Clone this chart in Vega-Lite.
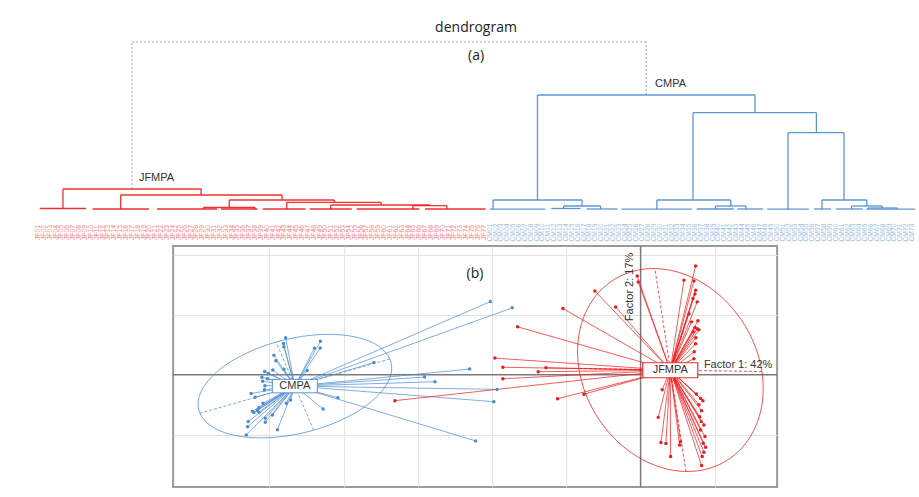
{
"$schema": "https://vega.github.io/schema/vega-lite/v6.json",
"background": "white",
"padding": {"left": 30, "top": 15, "right": 0, "bottom": 0},
"config": {"font": "Liberation Sans", "view": {"stroke": null}},
"center": true,
"spacing": 1,
"datasets": {
"segs": [
{"x":4.26,"x2":27.8,"y":2.1,"y2":2.1,"g":"JFMPA"},
{"x":4.26,"x2":4.26,"y":0.15,"y2":2.1,"g":"JFMPA"},
{"x":27.8,"x2":27.8,"y":1.5,"y2":2.1,"g":"JFMPA"},
{"x":14.1,"x2":41.6,"y":1.5,"y2":1.5,"g":"JFMPA"},
{"x":14.1,"x2":14.1,"y":0.1,"y2":1.5,"g":"JFMPA"},
{"x":41.6,"x2":41.6,"y":1.0,"y2":1.5,"g":"JFMPA"},
{"x":32.6,"x2":50.5,"y":1.0,"y2":1.0,"g":"JFMPA"},
{"x":32.6,"x2":32.6,"y":0.25,"y2":1.0,"g":"JFMPA"},
{"x":50.5,"x2":50.5,"y":0.77,"y2":1.0,"g":"JFMPA"},
{"x":42.4,"x2":58.5,"y":0.77,"y2":0.77,"g":"JFMPA"},
{"x":42.4,"x2":42.4,"y":0.1,"y2":0.77,"g":"JFMPA"},
{"x":58.5,"x2":58.5,"y":0.5,"y2":0.77,"g":"JFMPA"},
{"x":49.9,"x2":66.8,"y":0.5,"y2":0.5,"g":"JFMPA"},
{"x":49.9,"x2":49.9,"y":0.1,"y2":0.5,"g":"JFMPA"},
{"x":66.8,"x2":66.8,"y":0.43,"y2":0.5,"g":"JFMPA"},
{"x":63.9,"x2":69.7,"y":0.43,"y2":0.43,"g":"JFMPA"},
{"x":63.9,"x2":63.9,"y":0.1,"y2":0.43,"g":"JFMPA"},
{"x":69.7,"x2":69.7,"y":0.1,"y2":0.43,"g":"JFMPA"},
{"x":0.3,"x2":8.2,"y":0.15,"y2":0.15,"g":"JFMPA"},
{"x":9.3,"x2":18.9,"y":0.1,"y2":0.1,"g":"JFMPA"},
{"x":20.3,"x2":30.5,"y":0.1,"y2":0.1,"g":"JFMPA"},
{"x":31.2,"x2":37.4,"y":0.1,"y2":0.1,"g":"JFMPA"},
{"x":28.2,"x2":37.0,"y":0.25,"y2":0.25,"g":"JFMPA"},
{"x":28.2,"x2":28.2,"y":0.1,"y2":0.25,"g":"JFMPA"},
{"x":37.0,"x2":37.0,"y":0.1,"y2":0.25,"g":"JFMPA"},
{"x":38.3,"x2":45.6,"y":0.1,"y2":0.1,"g":"JFMPA"},
{"x":46.3,"x2":53.5,"y":0.1,"y2":0.1,"g":"JFMPA"},
{"x":54.3,"x2":65.0,"y":0.1,"y2":0.1,"g":"JFMPA"},
{"x":66.0,"x2":76.3,"y":0.1,"y2":0.1,"g":"JFMPA"},
{"x":85.15,"x2":122.23,"y":11.5,"y2":11.5,"g":"CMPA"},
{"x":85.15,"x2":85.15,"y":1.0,"y2":11.5,"g":"CMPA"},
{"x":122.23,"x2":122.23,"y":9.73,"y2":11.5,"g":"CMPA"},
{"x":77.57,"x2":92.74,"y":1.0,"y2":1.0,"g":"CMPA"},
{"x":77.57,"x2":77.57,"y":0.08,"y2":1.0,"g":"CMPA"},
{"x":92.74,"x2":92.74,"y":0.4,"y2":1.0,"g":"CMPA"},
{"x":89.6,"x2":95.9,"y":0.4,"y2":0.4,"g":"CMPA"},
{"x":89.6,"x2":89.6,"y":0.15,"y2":0.4,"g":"CMPA"},
{"x":95.9,"x2":95.9,"y":0.1,"y2":0.4,"g":"CMPA"},
{"x":111.66,"x2":132.7,"y":9.73,"y2":9.73,"g":"CMPA"},
{"x":111.66,"x2":111.66,"y":1.0,"y2":9.73,"g":"CMPA"},
{"x":132.7,"x2":132.7,"y":7.73,"y2":9.73,"g":"CMPA"},
{"x":105.5,"x2":118.1,"y":1.0,"y2":1.0,"g":"CMPA"},
{"x":105.5,"x2":105.5,"y":0.08,"y2":1.0,"g":"CMPA"},
{"x":118.1,"x2":118.1,"y":0.4,"y2":1.0,"g":"CMPA"},
{"x":115.5,"x2":120.7,"y":0.4,"y2":0.4,"g":"CMPA"},
{"x":115.5,"x2":115.5,"y":0.1,"y2":0.4,"g":"CMPA"},
{"x":120.7,"x2":120.7,"y":0.1,"y2":0.4,"g":"CMPA"},
{"x":127.85,"x2":137.4,"y":7.73,"y2":7.73,"g":"CMPA"},
{"x":127.85,"x2":127.85,"y":0.08,"y2":7.73,"g":"CMPA"},
{"x":137.4,"x2":137.4,"y":1.0,"y2":7.73,"g":"CMPA"},
{"x":133.65,"x2":141.3,"y":1.0,"y2":1.0,"g":"CMPA"},
{"x":133.65,"x2":133.65,"y":0.1,"y2":1.0,"g":"CMPA"},
{"x":141.3,"x2":141.3,"y":0.4,"y2":1.0,"g":"CMPA"},
{"x":138.7,"x2":143.9,"y":0.4,"y2":0.4,"g":"CMPA"},
{"x":138.7,"x2":138.7,"y":0.1,"y2":0.4,"g":"CMPA"},
{"x":143.9,"x2":143.9,"y":0.2,"y2":0.4,"g":"CMPA"},
{"x":141.5,"x2":146.5,"y":0.2,"y2":0.2,"g":"CMPA"},
{"x":141.5,"x2":141.5,"y":0.08,"y2":0.2,"g":"CMPA"},
{"x":146.5,"x2":146.5,"y":0.08,"y2":0.2,"g":"CMPA"},
{"x":77.0,"x2":86.5,"y":0.08,"y2":0.08,"g":"CMPA"},
{"x":87.5,"x2":92.5,"y":0.15,"y2":0.15,"g":"CMPA"},
{"x":93.5,"x2":98.8,"y":0.1,"y2":0.1,"g":"CMPA"},
{"x":99.5,"x2":111.5,"y":0.08,"y2":0.08,"g":"CMPA"},
{"x":112.3,"x2":118.6,"y":0.1,"y2":0.1,"g":"CMPA"},
{"x":119.2,"x2":123.6,"y":0.1,"y2":0.1,"g":"CMPA"},
{"x":124.3,"x2":131.4,"y":0.08,"y2":0.08,"g":"CMPA"},
{"x":132.3,"x2":135.2,"y":0.1,"y2":0.1,"g":"CMPA"},
{"x":136.0,"x2":140.6,"y":0.1,"y2":0.1,"g":"CMPA"},
{"x":141.2,"x2":149.5,"y":0.08,"y2":0.08,"g":"CMPA"}
],
"topsegs": [
{"x":16.03,"x2":103.69,"y":16.8,"y2":16.8},
{"x":16.03,"x2":16.03,"y":2.1,"y2":16.8},
{"x":103.69,"x2":103.69,"y":11.5,"y2":16.8}
],
"titles": [
{"t":"dendrogram","x":74.67,"y":18.2},
{"t":"(a)","x":74.67,"y":15.4}
],
"clabels": [
{"t":"CMPA","x":105.2,"y":12.6},
{"t":"JFMPA","x":17.2,"y":3.2}
],
"leaves": [
{"i":0,"l":"JF01","g":"JFMPA"},{"i":1,"l":"JF02","g":"JFMPA"},{"i":2,"l":"JF03","g":"JFMPA"},{"i":3,"l":"JF04","g":"JFMPA"},{"i":4,"l":"JF05","g":"JFMPA"},{"i":5,"l":"JF06","g":"JFMPA"},{"i":6,"l":"JF07","g":"JFMPA"},{"i":7,"l":"JF08","g":"JFMPA"},{"i":8,"l":"JF09","g":"JFMPA"},{"i":9,"l":"JF10","g":"JFMPA"},
{"i":10,"l":"JF11","g":"JFMPA"},{"i":11,"l":"JF12","g":"JFMPA"},{"i":12,"l":"JF13","g":"JFMPA"},{"i":13,"l":"JF14","g":"JFMPA"},{"i":14,"l":"JF15","g":"JFMPA"},{"i":15,"l":"JF16","g":"JFMPA"},{"i":16,"l":"JF17","g":"JFMPA"},{"i":17,"l":"JF18","g":"JFMPA"},{"i":18,"l":"JF19","g":"JFMPA"},{"i":19,"l":"JF20","g":"JFMPA"},
{"i":20,"l":"JF21","g":"JFMPA"},{"i":21,"l":"JF22","g":"JFMPA"},{"i":22,"l":"JF23","g":"JFMPA"},{"i":23,"l":"JF24","g":"JFMPA"},{"i":24,"l":"JF25","g":"JFMPA"},{"i":25,"l":"JF26","g":"JFMPA"},{"i":26,"l":"JF27","g":"JFMPA"},{"i":27,"l":"JF28","g":"JFMPA"},{"i":28,"l":"JF29","g":"JFMPA"},{"i":29,"l":"JF30","g":"JFMPA"},
{"i":30,"l":"JF31","g":"JFMPA"},{"i":31,"l":"JF32","g":"JFMPA"},{"i":32,"l":"JF33","g":"JFMPA"},{"i":33,"l":"JF34","g":"JFMPA"},{"i":34,"l":"JF35","g":"JFMPA"},{"i":35,"l":"JF36","g":"JFMPA"},{"i":36,"l":"JF37","g":"JFMPA"},{"i":37,"l":"JF38","g":"JFMPA"},{"i":38,"l":"JF39","g":"JFMPA"},{"i":39,"l":"JF40","g":"JFMPA"},
{"i":40,"l":"JF41","g":"JFMPA"},{"i":41,"l":"JF42","g":"JFMPA"},{"i":42,"l":"JF43","g":"JFMPA"},{"i":43,"l":"JF44","g":"JFMPA"},{"i":44,"l":"JF45","g":"JFMPA"},{"i":45,"l":"JF46","g":"JFMPA"},{"i":46,"l":"JF47","g":"JFMPA"},{"i":47,"l":"JF48","g":"JFMPA"},{"i":48,"l":"JF49","g":"JFMPA"},{"i":49,"l":"JF50","g":"JFMPA"},
{"i":50,"l":"JF51","g":"JFMPA"},{"i":51,"l":"JF52","g":"JFMPA"},{"i":52,"l":"JF53","g":"JFMPA"},{"i":53,"l":"JF54","g":"JFMPA"},{"i":54,"l":"JF55","g":"JFMPA"},{"i":55,"l":"JF56","g":"JFMPA"},{"i":56,"l":"JF57","g":"JFMPA"},{"i":57,"l":"JF58","g":"JFMPA"},{"i":58,"l":"JF59","g":"JFMPA"},{"i":59,"l":"JF60","g":"JFMPA"},
{"i":60,"l":"JF61","g":"JFMPA"},{"i":61,"l":"JF62","g":"JFMPA"},{"i":62,"l":"JF63","g":"JFMPA"},{"i":63,"l":"JF64","g":"JFMPA"},{"i":64,"l":"JF65","g":"JFMPA"},{"i":65,"l":"JF66","g":"JFMPA"},{"i":66,"l":"JF67","g":"JFMPA"},{"i":67,"l":"JF68","g":"JFMPA"},{"i":68,"l":"JF69","g":"JFMPA"},{"i":69,"l":"JF70","g":"JFMPA"},
{"i":70,"l":"JF71","g":"JFMPA"},{"i":71,"l":"JF72","g":"JFMPA"},{"i":72,"l":"JF73","g":"JFMPA"},{"i":73,"l":"JF74","g":"JFMPA"},{"i":74,"l":"JF75","g":"JFMPA"},{"i":75,"l":"JF76","g":"JFMPA"},{"i":76,"l":"JF77","g":"JFMPA"},
{"i":77,"l":"CM01","g":"CMPA"},{"i":78,"l":"CM02","g":"CMPA"},{"i":79,"l":"CM03","g":"CMPA"},{"i":80,"l":"CM04","g":"CMPA"},{"i":81,"l":"CM05","g":"CMPA"},{"i":82,"l":"CM06","g":"CMPA"},{"i":83,"l":"CM07","g":"CMPA"},{"i":84,"l":"CM08","g":"CMPA"},{"i":85,"l":"CM09","g":"CMPA"},{"i":86,"l":"CM10","g":"CMPA"},
{"i":87,"l":"CM11","g":"CMPA"},{"i":88,"l":"CM12","g":"CMPA"},{"i":89,"l":"CM13","g":"CMPA"},{"i":90,"l":"CM14","g":"CMPA"},{"i":91,"l":"CM15","g":"CMPA"},{"i":92,"l":"CM16","g":"CMPA"},{"i":93,"l":"CM17","g":"CMPA"},{"i":94,"l":"CM18","g":"CMPA"},{"i":95,"l":"CM19","g":"CMPA"},{"i":96,"l":"CM20","g":"CMPA"},
{"i":97,"l":"CM21","g":"CMPA"},{"i":98,"l":"CM22","g":"CMPA"},{"i":99,"l":"CM23","g":"CMPA"},{"i":100,"l":"CM24","g":"CMPA"},{"i":101,"l":"CM25","g":"CMPA"},{"i":102,"l":"CM26","g":"CMPA"},{"i":103,"l":"CM27","g":"CMPA"},{"i":104,"l":"CM28","g":"CMPA"},{"i":105,"l":"CM29","g":"CMPA"},{"i":106,"l":"CM30","g":"CMPA"},
{"i":107,"l":"CM31","g":"CMPA"},{"i":108,"l":"CM32","g":"CMPA"},{"i":109,"l":"CM33","g":"CMPA"},{"i":110,"l":"CM34","g":"CMPA"},{"i":111,"l":"CM35","g":"CMPA"},{"i":112,"l":"CM36","g":"CMPA"},{"i":113,"l":"CM37","g":"CMPA"},{"i":114,"l":"CM38","g":"CMPA"},{"i":115,"l":"CM39","g":"CMPA"},{"i":116,"l":"CM40","g":"CMPA"},
{"i":117,"l":"CM41","g":"CMPA"},{"i":118,"l":"CM42","g":"CMPA"},{"i":119,"l":"CM43","g":"CMPA"},{"i":120,"l":"CM44","g":"CMPA"},{"i":121,"l":"CM45","g":"CMPA"},{"i":122,"l":"CM46","g":"CMPA"},{"i":123,"l":"CM47","g":"CMPA"},{"i":124,"l":"CM48","g":"CMPA"},{"i":125,"l":"CM49","g":"CMPA"},{"i":126,"l":"CM50","g":"CMPA"},
{"i":127,"l":"CM51","g":"CMPA"},{"i":128,"l":"CM52","g":"CMPA"},{"i":129,"l":"CM53","g":"CMPA"},{"i":130,"l":"CM54","g":"CMPA"},{"i":131,"l":"CM55","g":"CMPA"},{"i":132,"l":"CM56","g":"CMPA"},{"i":133,"l":"CM57","g":"CMPA"},{"i":134,"l":"CM58","g":"CMPA"},{"i":135,"l":"CM59","g":"CMPA"},{"i":136,"l":"CM60","g":"CMPA"},
{"i":137,"l":"CM61","g":"CMPA"},{"i":138,"l":"CM62","g":"CMPA"},{"i":139,"l":"CM63","g":"CMPA"},{"i":140,"l":"CM64","g":"CMPA"},{"i":141,"l":"CM65","g":"CMPA"},{"i":142,"l":"CM66","g":"CMPA"},{"i":143,"l":"CM67","g":"CMPA"},{"i":144,"l":"CM68","g":"CMPA"},{"i":145,"l":"CM69","g":"CMPA"},{"i":146,"l":"CM70","g":"CMPA"},
{"i":147,"l":"CM71","g":"CMPA"},{"i":148,"l":"CM72","g":"CMPA"},{"i":149,"l":"CM73","g":"CMPA"}
],
"pts": [
{"g":"CMPA","x":-4.784,"y":0.617},{"g":"CMPA","x":-4.814,"y":0.522},{"g":"CMPA","x":-4.807,"y":0.467},{"g":"CMPA","x":-4.315,"y":0.558},{"g":"CMPA","x":-4.318,"y":0.445},{"g":"CMPA","x":-4.396,"y":0.442},{"g":"CMPA","x":-4.942,"y":0.325},{"g":"CMPA","x":-4.915,"y":0.233},{"g":"CMPA","x":-4.956,"y":0.078},{"g":"CMPA","x":-4.807,"y":0.092},
{"g":"CMPA","x":-4.493,"y":0.072},{"g":"CMPA","x":-5.067,"y":0.055},{"g":"CMPA","x":-5.016,"y":0.022},{"g":"CMPA","x":-5.104,"y":-0.042},{"g":"CMPA","x":-5.03,"y":-0.067},{"g":"CMPA","x":-5.094,"y":-0.108},{"g":"CMPA","x":-5.063,"y":-0.183},{"g":"CMPA","x":-5.07,"y":-0.25},{"g":"CMPA","x":-5.249,"y":-0.313},{"g":"CMPA","x":-5.195,"y":-0.377},
{"g":"CMPA","x":-4.717,"y":-0.422},{"g":"CMPA","x":-4.776,"y":-0.478},{"g":"CMPA","x":-5.09,"y":-0.478},{"g":"CMPA","x":-5.144,"y":-0.55},{"g":"CMPA","x":-5.232,"y":-0.608},{"g":"CMPA","x":-5.167,"y":-0.592},{"g":"CMPA","x":-5.212,"y":-0.633},{"g":"CMPA","x":-5.144,"y":-0.625},{"g":"CMPA","x":-4.962,"y":-0.672},{"g":"CMPA","x":-5.059,"y":-0.728},
{"g":"CMPA","x":-5.29,"y":-0.783},{"g":"CMPA","x":-5.059,"y":-0.795},{"g":"CMPA","x":-5.296,"y":-0.867},{"g":"CMPA","x":-4.895,"y":-0.917},{"g":"CMPA","x":-5.315,"y":-1.008},{"g":"CMPA","x":-4.279,"y":-0.572},{"g":"CMPA","x":-4.08,"y":-0.383},{"g":"CMPA","x":-3.594,"y":0.205},{"g":"CMPA","x":-2.024,"y":1.222},{"g":"CMPA","x":-1.73,"y":1.117},
{"g":"CMPA","x":-2.305,"y":0.095},{"g":"CMPA","x":-2.911,"y":-0.038},{"g":"CMPA","x":-2.772,"y":-0.117},{"g":"CMPA","x":-1.934,"y":-0.245},{"g":"CMPA","x":-1.977,"y":-0.45},{"g":"CMPA","x":-2.224,"y":-1.105},
{"g":"JFMPA","x":0.741,"y":1.817},{"g":"JFMPA","x":0.584,"y":1.578},{"g":"JFMPA","x":0.718,"y":1.567},{"g":"JFMPA","x":0.741,"y":1.412},{"g":"JFMPA","x":0.732,"y":1.35},{"g":"JFMPA","x":0.705,"y":1.272},{"g":"JFMPA","x":0.763,"y":1.217},{"g":"JFMPA","x":0.687,"y":0.883},{"g":"JFMPA","x":0.772,"y":0.9},{"g":"JFMPA","x":0.732,"y":0.788},
{"g":"JFMPA","x":0.763,"y":0.767},{"g":"JFMPA","x":0.786,"y":0.75},{"g":"JFMPA","x":0.709,"y":0.717},{"g":"JFMPA","x":0.741,"y":0.517},{"g":"JFMPA","x":0.722,"y":0.383},{"g":"JFMPA","x":0.718,"y":0.267},{"g":"JFMPA","x":-0.046,"y":1.65},{"g":"JFMPA","x":-0.032,"y":1.55},{"g":"JFMPA","x":-0.616,"y":1.4},{"g":"JFMPA","x":-0.337,"y":1.133},
{"g":"JFMPA","x":-1.047,"y":1.105},{"g":"JFMPA","x":-1.658,"y":0.8},{"g":"JFMPA","x":-1.964,"y":0.278},{"g":"JFMPA","x":-1.856,"y":0.125},{"g":"JFMPA","x":-1.276,"y":0.117},{"g":"JFMPA","x":-1.38,"y":0.05},{"g":"JFMPA","x":-1.856,"y":-0.067},{"g":"JFMPA","x":-3.311,"y":-0.433},{"g":"JFMPA","x":-0.764,"y":-0.325},{"g":"JFMPA","x":-1.119,"y":-0.4},
{"g":"JFMPA","x":0.291,"y":-0.25},{"g":"JFMPA","x":0.237,"y":-0.712},{"g":"JFMPA","x":0.752,"y":-0.322},{"g":"JFMPA","x":0.809,"y":-0.395},{"g":"JFMPA","x":0.84,"y":-0.433},{"g":"JFMPA","x":0.786,"y":-0.5},{"g":"JFMPA","x":0.822,"y":-0.6},{"g":"JFMPA","x":0.795,"y":-0.7},{"g":"JFMPA","x":0.817,"y":-0.783},{"g":"JFMPA","x":0.853,"y":-0.838},
{"g":"JFMPA","x":0.809,"y":-0.922},{"g":"JFMPA","x":0.867,"y":-1.033},{"g":"JFMPA","x":0.844,"y":-1.145},{"g":"JFMPA","x":0.876,"y":-1.212},{"g":"JFMPA","x":0.853,"y":-1.295},{"g":"JFMPA","x":0.83,"y":-1.367},{"g":"JFMPA","x":0.822,"y":-1.517},{"g":"JFMPA","x":0.274,"y":-1.133},{"g":"JFMPA","x":0.341,"y":-1.15},{"g":"JFMPA","x":0.539,"y":-1.117},
{"g":"JFMPA","x":0.526,"y":-1.175},{"g":"JFMPA","x":0.404,"y":-1.367},{"g":"JFMPA","x":0.651,"y":1.017},{"g":"JFMPA","x":0.745,"y":0.617}
],
"centers": [
{"g":"CMPA","cx":-4.66,"cy":-0.19},
{"g":"JFMPA","cx":0.40,"cy":0.075}
],
"ell": [
{"g":"CMPA","t":0,"x":-3.379,"y":0.263},{"g":"CMPA","t":1,"x":-3.357,"y":0.057},{"g":"CMPA","t":2,"x":-3.424,"y":-0.165},{"g":"CMPA","t":3,"x":-3.575,"y":-0.39},{"g":"CMPA","t":4,"x":-3.799,"y":-0.601},{"g":"CMPA","t":5,"x":-4.083,"y":-0.783},
{"g":"CMPA","t":6,"x":-4.406,"y":-0.926},{"g":"CMPA","t":7,"x":-4.745,"y":-1.018},{"g":"CMPA","t":8,"x":-5.08,"y":-1.054},{"g":"CMPA","t":9,"x":-5.385,"y":-1.031},{"g":"CMPA","t":10,"x":-5.641,"y":-0.951},{"g":"CMPA","t":11,"x":-5.83,"y":-0.818},
{"g":"CMPA","t":12,"x":-5.939,"y":-0.643},{"g":"CMPA","t":13,"x":-5.961,"y":-0.437},{"g":"CMPA","t":14,"x":-5.894,"y":-0.215},{"g":"CMPA","t":15,"x":-5.743,"y":0.01},{"g":"CMPA","t":16,"x":-5.519,"y":0.221},{"g":"CMPA","t":17,"x":-5.235,"y":0.403},
{"g":"CMPA","t":18,"x":-4.912,"y":0.546},{"g":"CMPA","t":19,"x":-4.573,"y":0.638},{"g":"CMPA","t":20,"x":-4.238,"y":0.674},{"g":"CMPA","t":21,"x":-3.933,"y":0.651},{"g":"CMPA","t":22,"x":-3.677,"y":0.571},{"g":"CMPA","t":23,"x":-3.488,"y":0.438},
{"g":"JFMPA","t":0,"x":0.611,"y":-1.616},{"g":"JFMPA","t":1,"x":0.923,"y":-1.565},{"g":"JFMPA","t":2,"x":1.199,"y":-1.402},{"g":"JFMPA","t":3,"x":1.421,"y":-1.139},{"g":"JFMPA","t":4,"x":1.574,"y":-0.792},{"g":"JFMPA","t":5,"x":1.647,"y":-0.386},
{"g":"JFMPA","t":6,"x":1.635,"y":0.052},{"g":"JFMPA","t":7,"x":1.539,"y":0.491},{"g":"JFMPA","t":8,"x":1.365,"y":0.902},{"g":"JFMPA","t":9,"x":1.126,"y":1.257},{"g":"JFMPA","t":10,"x":0.837,"y":1.532},{"g":"JFMPA","t":11,"x":0.519,"y":1.708},
{"g":"JFMPA","t":12,"x":0.193,"y":1.773},{"g":"JFMPA","t":13,"x":-0.119,"y":1.722},{"g":"JFMPA","t":14,"x":-0.396,"y":1.559},{"g":"JFMPA","t":15,"x":-0.618,"y":1.295},{"g":"JFMPA","t":16,"x":-0.771,"y":0.949},{"g":"JFMPA","t":17,"x":-0.844,"y":0.543},
{"g":"JFMPA","t":18,"x":-0.832,"y":0.105},{"g":"JFMPA","t":19,"x":-0.736,"y":-0.334},{"g":"JFMPA","t":20,"x":-0.562,"y":-0.746},{"g":"JFMPA","t":21,"x":-0.323,"y":-1.101},{"g":"JFMPA","t":22,"x":-0.034,"y":-1.376},{"g":"JFMPA","t":23,"x":0.284,"y":-1.551}
],
"eaxes": [
{"g":"CMPA","x":-3.379,"y":0.263,"x2":-5.939,"y2":-0.643},
{"g":"CMPA","x":-4.406,"y":-0.926,"x2":-4.912,"y2":0.546},
{"g":"JFMPA","x":0.611,"y":-1.616,"x2":0.193,"y2":1.773},
{"g":"JFMPA","x":1.635,"y":0.052,"x2":-0.832,"y2":0.105}
],
"ann": [
{"t":"(b)","x":-2.233,"y":1.678}
],
"f1": [
{"t":"Factor 1: 42%","x":0.853,"y":0.162}
],
"f2": [
{"t":"Factor 2: 17%","x":-0.144,"y":1.467}
]
},
"vconcat": [
{
"width": 892,
"height": 228,
"view": {"stroke": null},
"layer": [
{"data": {"name": "topsegs"},
 "mark": {"type": "rule", "color": "#a8a8a8", "strokeWidth": 1, "strokeDash": [2, 2]},
 "encoding": {
  "x": {"field": "x", "type": "quantitative", "scale": {"domain": [-1.364, 150.7], "nice": false, "zero": false}, "axis": null},
  "x2": {"field": "x2"},
  "y": {"field": "y", "type": "quantitative", "scale": {"domain": [-3.3, 19.5], "nice": false, "zero": false}, "axis": null},
  "y2": {"field": "y2"}
 }},
{"data": {"name": "segs"},
 "mark": {"type": "rule", "strokeWidth": 1.3, "opacity": 0.9},
 "encoding": {
  "x": {"field": "x", "type": "quantitative", "scale": {"domain": [-1.364, 150.7], "nice": false, "zero": false}, "axis": null},
  "x2": {"field": "x2"},
  "y": {"field": "y", "type": "quantitative", "scale": {"domain": [-3.3, 19.5], "nice": false, "zero": false}, "axis": null},
  "y2": {"field": "y2"},
  "color": {"field": "g", "type": "nominal", "scale": {"domain": ["CMPA", "JFMPA"], "range": ["#4a8bd0", "#ef1a1a"]}, "legend": null}
 }},
{"data": {"name": "leaves"},
 "mark": {"type": "text", "angle": 270, "fontSize": 6.8, "align": "center", "baseline": "middle", "opacity": 0.55},
 "encoding": {
  "x": {"field": "i", "type": "quantitative", "scale": {"domain": [-1.364, 150.7], "nice": false, "zero": false}, "axis": null},
  "y": {"datum": -2.25, "type": "quantitative", "scale": {"domain": [-3.3, 19.5], "nice": false, "zero": false}, "axis": null},
  "text": {"field": "l"},
  "color": {"field": "g", "type": "nominal", "scale": {"domain": ["CMPA", "JFMPA"], "range": ["#4a8bd0", "#ef1a1a"]}, "legend": null}
 }},
{"data": {"name": "titles"},
 "mark": {"type": "text", "font": "Open Sans", "fontSize": 14, "color": "#222222", "align": "center", "baseline": "middle"},
 "encoding": {
  "x": {"field": "x", "type": "quantitative", "scale": {"domain": [-1.364, 150.7], "nice": false, "zero": false}, "axis": null},
  "y": {"field": "y", "type": "quantitative", "scale": {"domain": [-3.3, 19.5], "nice": false, "zero": false}, "axis": null},
  "text": {"field": "t"}
 }},
{"data": {"name": "clabels"},
 "mark": {"type": "text", "fontSize": 11, "color": "#333333", "align": "left", "baseline": "middle"},
 "encoding": {
  "x": {"field": "x", "type": "quantitative", "scale": {"domain": [-1.364, 150.7], "nice": false, "zero": false}, "axis": null},
  "y": {"field": "y", "type": "quantitative", "scale": {"domain": [-3.3, 19.5], "nice": false, "zero": false}, "axis": null},
  "text": {"field": "t"}
 }}
]
},
{
"width": 604,
"height": 241,
"view": {"stroke": "#9a9a9a", "strokeWidth": 2},
"layer": [
{"data": {"values": [{}]},
 "mark": {"type": "rule", "color": "#7a7a7a", "strokeWidth": 1.5},
 "encoding": {
  "x": {"datum": 0, "type": "quantitative", "scale": {"domain": [-6.3, 1.84], "nice": false, "zero": false}, "axis": {"grid": true, "values": [-5, -4, -3, -2, -1, 1], "labels": false, "ticks": false, "domain": false, "title": null, "gridColor": "#e2e2e2", "gridWidth": 1}}
 }},
{"data": {"values": [{}]},
 "mark": {"type": "rule", "color": "#7a7a7a", "strokeWidth": 1.5},
 "encoding": {
  "y": {"datum": 0, "type": "quantitative", "scale": {"domain": [-1.875, 2.15], "nice": false, "zero": false}, "axis": {"grid": true, "values": [-1, 1, 2], "labels": false, "ticks": false, "domain": false, "title": null, "gridColor": "#e2e2e2", "gridWidth": 1}}
 }},
{"data": {"name": "ell"},
 "mark": {"type": "line", "interpolate": "cardinal-closed", "strokeWidth": 1, "opacity": 0.75},
 "encoding": {
  "x": {"field": "x", "type": "quantitative", "scale": {"domain": [-6.3, 1.84], "nice": false, "zero": false}},
  "y": {"field": "y", "type": "quantitative", "scale": {"domain": [-1.875, 2.15], "nice": false, "zero": false}},
  "order": {"field": "t", "type": "quantitative"},
  "color": {"field": "g", "type": "nominal", "scale": {"domain": ["CMPA", "JFMPA"], "range": ["#3f7fc6", "#ec1515"]}, "legend": null}
 }},
{"data": {"name": "eaxes"},
 "mark": {"type": "rule", "strokeWidth": 1, "strokeDash": [3, 2], "opacity": 0.75},
 "encoding": {
  "x": {"field": "x", "type": "quantitative", "scale": {"domain": [-6.3, 1.84], "nice": false, "zero": false}},
  "y": {"field": "y", "type": "quantitative", "scale": {"domain": [-1.875, 2.15], "nice": false, "zero": false}},
  "x2": {"field": "x2"},
  "y2": {"field": "y2"},
  "color": {"field": "g", "type": "nominal", "scale": {"domain": ["CMPA", "JFMPA"], "range": ["#3f7fc6", "#ec1515"]}, "legend": null}
 }},
{"data": {"name": "pts"},
 "transform": [{"lookup": "g", "from": {"data": {"name": "centers"}, "key": "g", "fields": ["cx", "cy"]}}],
 "mark": {"type": "rule", "strokeWidth": 1, "opacity": 0.7},
 "encoding": {
  "x": {"field": "x", "type": "quantitative", "scale": {"domain": [-6.3, 1.84], "nice": false, "zero": false}},
  "y": {"field": "y", "type": "quantitative", "scale": {"domain": [-1.875, 2.15], "nice": false, "zero": false}},
  "x2": {"field": "cx"},
  "y2": {"field": "cy"},
  "color": {"field": "g", "type": "nominal", "scale": {"domain": ["CMPA", "JFMPA"], "range": ["#3f7fc6", "#ec1515"]}, "legend": null}
 }},
{"data": {"name": "pts"},
 "mark": {"type": "point", "shape": "circle", "filled": true, "size": 12, "opacity": 1},
 "encoding": {
  "x": {"field": "x", "type": "quantitative", "scale": {"domain": [-6.3, 1.84], "nice": false, "zero": false}},
  "y": {"field": "y", "type": "quantitative", "scale": {"domain": [-1.875, 2.15], "nice": false, "zero": false}},
  "color": {"field": "g", "type": "nominal", "scale": {"domain": ["CMPA", "JFMPA"], "range": ["#3f7fc6", "#ec1515"]}, "legend": null}
 }},
{"data": {"name": "centers"},
 "transform": [{"filter": "datum.g === 'CMPA'"}],
 "mark": {"type": "point", "shape": "M-1,-0.3L1,-0.3L1,0.3L-1,0.3Z", "size": 2025, "filled": true, "fill": "white", "stroke": "#5a93d0", "strokeWidth": 1, "opacity": 1, "fillOpacity": 1},
 "encoding": {
  "x": {"field": "cx", "type": "quantitative", "scale": {"domain": [-6.3, 1.84], "nice": false, "zero": false}},
  "y": {"field": "cy", "type": "quantitative", "scale": {"domain": [-1.875, 2.15], "nice": false, "zero": false}}
 }},
{"data": {"name": "centers"},
 "transform": [{"filter": "datum.g === 'JFMPA'"}],
 "mark": {"type": "point", "shape": "M-1,-0.2727L1,-0.2727L1,0.2727L-1,0.2727Z", "size": 3025, "filled": true, "fill": "white", "stroke": "#ec3030", "strokeWidth": 1.2, "opacity": 1, "fillOpacity": 1},
 "encoding": {
  "x": {"field": "cx", "type": "quantitative", "scale": {"domain": [-6.3, 1.84], "nice": false, "zero": false}},
  "y": {"field": "cy", "type": "quantitative", "scale": {"domain": [-1.875, 2.15], "nice": false, "zero": false}}
 }},
{"data": {"name": "centers"},
 "mark": {"type": "text", "fontSize": 11, "color": "#333333", "align": "center", "baseline": "middle"},
 "encoding": {
  "x": {"field": "cx", "type": "quantitative", "scale": {"domain": [-6.3, 1.84], "nice": false, "zero": false}},
  "y": {"field": "cy", "type": "quantitative", "scale": {"domain": [-1.875, 2.15], "nice": false, "zero": false}},
  "text": {"field": "g"}
 }},
{"data": {"name": "ann"},
 "mark": {"type": "text", "font": "Open Sans", "fontSize": 14, "color": "#222222", "align": "center", "baseline": "middle"},
 "encoding": {
  "x": {"field": "x", "type": "quantitative", "scale": {"domain": [-6.3, 1.84], "nice": false, "zero": false}},
  "y": {"field": "y", "type": "quantitative", "scale": {"domain": [-1.875, 2.15], "nice": false, "zero": false}},
  "text": {"field": "t"}
 }},
{"data": {"name": "f1"},
 "mark": {"type": "text", "fontSize": 11, "color": "#333333", "align": "left", "baseline": "middle"},
 "encoding": {
  "x": {"field": "x", "type": "quantitative", "scale": {"domain": [-6.3, 1.84], "nice": false, "zero": false}},
  "y": {"field": "y", "type": "quantitative", "scale": {"domain": [-1.875, 2.15], "nice": false, "zero": false}},
  "text": {"field": "t"}
 }},
{"data": {"name": "f2"},
 "mark": {"type": "text", "fontSize": 11, "color": "#333333", "align": "center", "baseline": "middle", "angle": 270},
 "encoding": {
  "x": {"field": "x", "type": "quantitative", "scale": {"domain": [-6.3, 1.84], "nice": false, "zero": false}},
  "y": {"field": "y", "type": "quantitative", "scale": {"domain": [-1.875, 2.15], "nice": false, "zero": false}},
  "text": {"field": "t"}
 }}
]
}
]
}
